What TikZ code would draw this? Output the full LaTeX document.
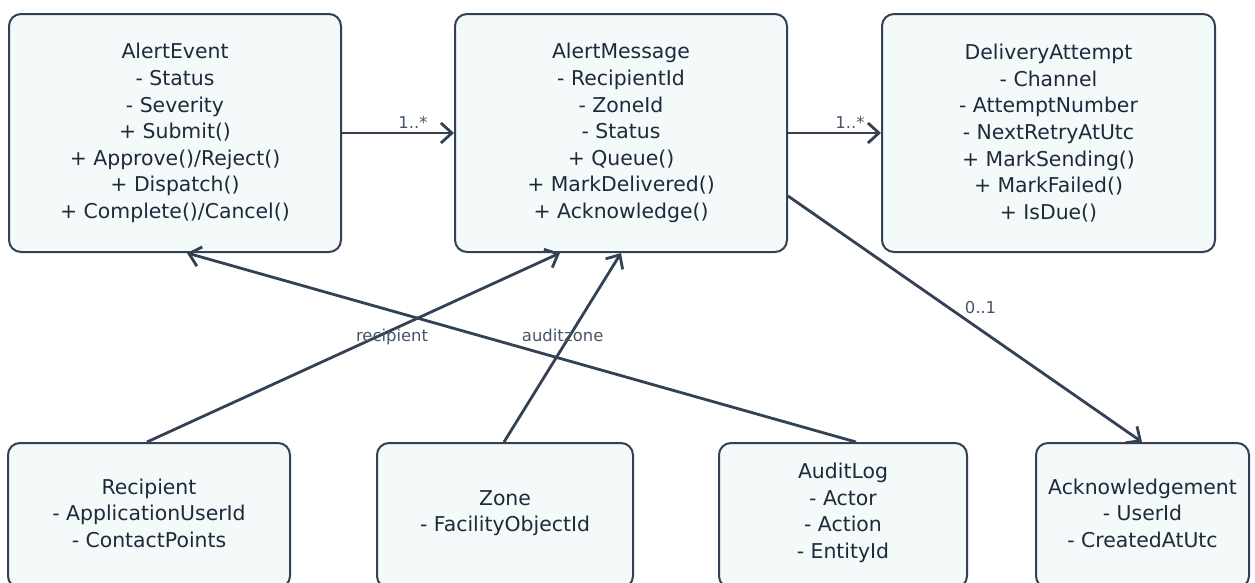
\documentclass[tikz,border=0pt]{standalone}
\usepackage{fontspec}
\setmainfont{DejaVu Sans}
\usetikzlibrary{arrows.meta,calc}

\definecolor{edgeclr}{HTML}{334155}
\definecolor{boxfill}{HTML}{F4F9F9}
\definecolor{txtclr}{HTML}{1E293B}
\definecolor{lblclr}{HTML}{475569}

\tikzset{
  classbox/.style={draw=edgeclr, line width=2pt, fill=boxfill, rounded corners=12pt,
    text=txtclr, align=center, inner sep=0pt,
    font=\fontsize{20.4}{26.6}\selectfont},
  classtext/.style={text=txtclr, align=center, inner sep=0pt,
    font=\fontsize{20.4}{26.6}\selectfont},
  assoc/.style={draw=edgeclr, line width=2.8pt,
    -{Straight Barb[length=11pt,width=20pt,line width=2.8pt]}},
  mult/.style={text=lblclr, inner sep=0pt, anchor=base,
    font=\fontsize{16.4}{20}\selectfont}
}

\begin{document}
\begin{tikzpicture}[x=1pt,y=-1pt]
\useasboundingbox (0,0) rectangle (1255,582);
\fill[white] (0,0) rectangle (1255,582);
\clip (0,0) rectangle (1255,582);

% classes, top row
\node[classbox, minimum width=332pt, minimum height=238pt] (ae) at (175,133)
  {AlertEvent\\- Status\\- Severity\\+ Submit()\\+ Approve()/Reject()\\+ Dispatch()\\+ Complete()/Cancel()};
\node[classbox, minimum width=332pt, minimum height=238pt] (am) at (621,133)
  {AlertMessage\\- RecipientId\\- ZoneId\\- Status\\+ Queue()\\+ MarkDelivered()\\+ Acknowledge()};
\node[classbox, minimum width=333pt, minimum height=238pt] (da) at (1048.5,133)
  {DeliveryAttempt\\- Channel\\- AttemptNumber\\- NextRetryAtUtc\\+ MarkSending()\\+ MarkFailed()\\+ IsDue()};

% classes, bottom row (their lower edges run past the page)
\node[classbox, minimum width=282pt, minimum height=145pt] (rec) at (149,515.5)
  {}; 
\node[classtext] (rec-t) at (149,513) {Recipient\\- ApplicationUserId\\- ContactPoints};
\node[classbox, minimum width=256pt, minimum height=145pt] (zone) at (505,515.5)
  {};
\node[classtext] (zone-t) at (505,513) {Zone\\- FacilityObjectId};
\node[classbox, minimum width=248pt, minimum height=145pt] (al) at (843,515.5)
  {};
\node[classtext] (al-t) at (843,513) {AuditLog\\- Actor\\- Action\\- EntityId};
\node[classbox, minimum width=213pt, minimum height=145pt] (ack) at (1142.5,515.5)
  {};
\node[classtext] (ack-t) at (1142.5,513) {Acknowledgement\\- UserId\\- CreatedAtUtc};

% associations
\draw[assoc] (ae.east) -- (am.west);
\draw[assoc] (am.east) -- (da.west);
\draw[assoc] ($(am.north east)+(0,183)$) -- ($(ack.north west)+(107,0)$);
\draw[assoc] ($(rec.north west)+(140,0)$) -- ($(am.south west)+(106,0)$);
\draw[assoc] ($(zone.north west)+(128,0)$) -- ($(am.south west)+(167,0)$);
\draw[assoc] ($(al.north west)+(138,0)$) -- ($(ae.south west)+(179,0)$);

% multiplicities and role names
\node[mult] (m1) at (413,128) {1..*};
\node[mult] (m2) at (850,128) {1..*};
\node[mult] (m3) at (980.5,313) {0..1};
\node[mult] (r1) at (392,341.5) {recipient};
\node[mult, anchor=base east] (r2) at (564,341.5) {audit};
\node[mult, anchor=base west] (r3) at (564,341.5) {zone};
\end{tikzpicture}
\end{document}
